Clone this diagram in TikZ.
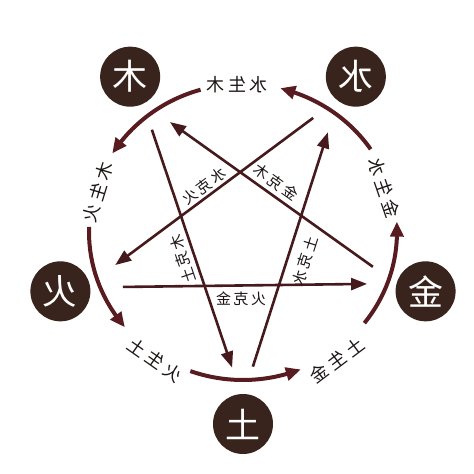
\documentclass[tikz,border=0pt]{standalone}
\usepackage{fontspec}
\usepackage{graphicx}
\setmainfont{Noto Sans CJK SC}
\usetikzlibrary{arrows.meta,bending}
\definecolor{arcc}{RGB}{88,28,32}
\definecolor{starc}{RGB}{70,26,28}
\definecolor{badgec}{RGB}{56,36,28}
\definecolor{txtc}{RGB}{30,22,22}
\newcommand\threech[3]{#1\hspace{4pt}#2\hspace{4pt}#3}
\newcommand\threest[3]{#1\hspace{2.5pt}#2\hspace{2.5pt}#3}
\tikzset{
 badge/.style={circle, fill=badgec, minimum size=60pt, inner sep=0pt, text=white, font=\fontsize{35}{35}\selectfont},
 arcline/.style={draw=arcc, line width=4pt, -{Triangle[length=15pt,width=13pt,bend]}},
 starline/.style={draw=starc, line width=2.6pt, -{Triangle[length=16pt,width=12pt]}},
 arclabel/.style={text=txtc, font=\fontsize{18}{18}\selectfont, inner sep=0pt},
 starlabel/.style={text=txtc, font=\fontsize{15}{15}\selectfont, inner sep=0pt},
}
\begin{document}
\begin{tikzpicture}[x=1pt,y=1pt]
\useasboundingbox[fill=white] (-243,-242) rectangle (231,232);
% badges
\node[badge] (mu) at (126:192) {\reflectbox{木}};
\node[badge] (shui) at (54:192) {\reflectbox{水}};
\node[badge] (huo) at (198:192) {\reflectbox{火}};
\node[badge] (jin) at (342:192) {\reflectbox{金}};
\node[badge] (tu) at (270:192) {\reflectbox{土}};
% arc segments
\coordinate (a1) at (34:154 and 148);
\coordinate (a2) at (106:154 and 148);
\coordinate (a3) at (178:154 and 148);
\coordinate (a4) at (250:154 and 148);
\coordinate (a5) at (322:154 and 148);
\draw[arcline] (a1) arc[start angle=34, end angle=76, x radius=154, y radius=148];
\draw[arcline] (a2) arc[start angle=106, end angle=148, x radius=154, y radius=148];
\draw[arcline] (a3) arc[start angle=178, end angle=220, x radius=154, y radius=148];
\draw[arcline] (a4) arc[start angle=250, end angle=292, x radius=154, y radius=148];
\draw[arcline] (a5) arc[start angle=322, end angle=364, x radius=154, y radius=148];
% arc labels
\node[arclabel, rotate=0] (g1) at (-6,147) {\reflectbox{\threech{水}{生}{木}}};
\node[arclabel, rotate=73] (g2) at (-145,40) {\reflectbox{\threech{木}{生}{火}}};
\node[arclabel, rotate=-35] (g3) at (-88,-128) {\reflectbox{\threech{火}{生}{土}}};
\node[arclabel, rotate=37] (g4) at (94,-128) {\reflectbox{\threech{土}{生}{金}}};
\node[arclabel, rotate=-71] (g5) at (141,44) {\reflectbox{\threech{金}{生}{水}}};
% star lines
\coordinate (s1) at (345:134.5);
\coordinate (e1) at (123.6:132);
\coordinate (s2) at (58.4:134);
\coordinate (e2) at (194.5:132);
\coordinate (s3) at (131.7:137);
\coordinate (e3) at (265.4:136);
\coordinate (s4) at (274.2:135);
\coordinate (e4) at (49.6:131);
\coordinate (s5) at (204.6:132);
\coordinate (e5) at (337.3:134.5);
\draw[starline] (s1) -- (e1);
\draw[starline] (s2) -- (e2);
\draw[starline] (s3) -- (e3);
\draw[starline] (s4) -- (e4);
\draw[starline] (s5) -- (e5);
% star labels
\node[starlabel, rotate=-35.5] (k1) at (33,50) {\reflectbox{\threest{金}{克}{木}}};
\node[starlabel, rotate=36.6] (k2) at (-39,46) {\reflectbox{\threest{水}{克}{火}}};
\node[starlabel, rotate=108.6] (k3) at (-60,-27) {\reflectbox{\threest{木}{克}{土}}};
\node[starlabel, rotate=72.3] (k4) at (62,-29) {\reflectbox{\threest{土}{克}{水}}};
\node[starlabel] (k5) at (-2,-67) {\reflectbox{\threest{火}{克}{金}}};
\end{tikzpicture}
\end{document}
